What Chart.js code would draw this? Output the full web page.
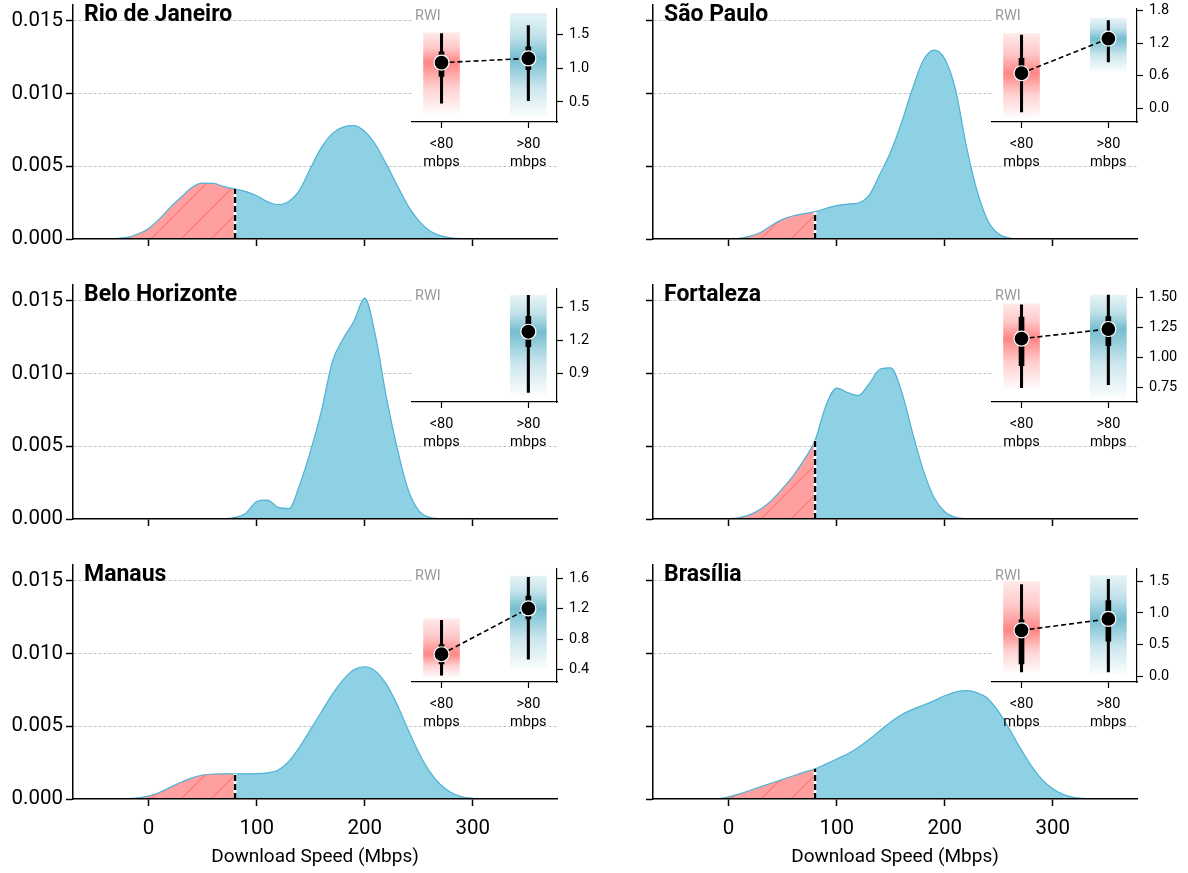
<!DOCTYPE html>
<html>
<head>
<meta charset="utf-8">
<script src="https://cdn.jsdelivr.net/npm/chart.js@4"></script>
<style>
  body { margin: 0; background: #fff; width: 1188px; height: 873px; position: relative; overflow: hidden; }
  canvas { position: absolute; }
</style>
</head>
<body>
<script>
// grille des vitesses (Mbps) où la densité a été lue
const speedGrid = [-50,-40,-30,-20,-10,0,10,20,30,40,50,60,70,80,90,100,110,120,130,140,150,160,170,180,190,200,210,220,230,240,250,260,270,280,290,300,310,320,330,340,350];

// densité en unités de 0.001
const rioDensity      = [0,0,0.03,0.11,0.34,0.73,1.38,2.18,2.87,3.55,3.85,3.83,3.6,3.44,3.26,2.98,2.57,2.36,2.6,3.4,4.9,6.3,7.25,7.7,7.8,7.4,6.5,5.15,3.7,2.3,1.26,0.57,0.23,0.08,0.02,0,0,0,0,0,0];
const spDensity       = [0,0,0,0,0,0,0.05,0.2,0.46,0.95,1.35,1.6,1.75,1.88,2.1,2.3,2.4,2.48,3.0,4.45,6.0,8.0,10.3,12.27,13.0,12.4,10.3,6.4,3.3,1.26,0.34,0.07,0.01,0,0,0,0,0,0,0,0];
const bhDensity       = [0,0,0,0,0,0,0,0,0,0,0,0,0.02,0.1,0.4,1.2,1.3,0.8,0.72,2.4,4.7,7.45,10.8,12.4,13.6,15.2,12.6,8.4,4.9,2.06,0.57,0.12,0.02,0,0,0,0,0,0,0,0];
const fortalezaDensity= [0,0,0,0,0,0.02,0.1,0.3,0.7,1.3,2.1,3.0,4.1,5.4,7.8,9.0,8.7,8.5,9.3,10.3,10.4,8.8,6.0,3.4,1.5,0.5,0.12,0.02,0,0,0,0,0,0,0,0,0,0,0,0,0];
const manausDensity   = [0,0,0,0.02,0.08,0.2,0.45,0.8,1.15,1.45,1.65,1.72,1.73,1.73,1.73,1.75,1.8,2.0,2.6,3.6,4.8,6.0,7.2,8.2,8.9,9.1,8.8,7.9,6.5,4.8,3.2,1.9,1.0,0.45,0.15,0.05,0.01,0,0,0,0];
const brasiliaDensity = [0,0,0,0,0.02,0.15,0.35,0.6,0.85,1.1,1.35,1.6,1.85,2.08,2.4,2.75,3.1,3.55,4.1,4.7,5.3,5.8,6.15,6.45,6.75,7.1,7.35,7.45,7.3,6.9,6.0,4.8,3.5,2.3,1.35,0.7,0.3,0.1,0.03,0,0];

const xTicks = [0, 100, 200, 300];
const yTicks = [0, 0.005, 0.010, 0.015];
const threshold = 80;
const groupLabels = [['<80', 'mbps'], ['>80', 'mbps']];

// RWI : [<80, >80]
const rioRwiMean = [1.086, 1.148];
const rioRwiLine = [[0.48, 1.52], [0.52, 1.64]];
const rioRwiBox  = [[0.88, 1.245], [0.98, 1.32]];
const rioRwiBand = [[0.33, 1.53], [0.29, 1.82]];
const rioRwiRange = [0.2, 1.89];
const rioRwiTicks = ['0.5', '1.0', '1.5'];

const spRwiMean = [0.646, 1.286];
const spRwiLine = [[-0.07, 1.35], [0.855, 1.62]];
const spRwiBox  = [[0.55, 0.92], [1.2, 1.38]];
const spRwiBand = [[-0.16, 1.38], [0.676, 1.66]];
const spRwiRange = [-0.256, 1.84];
const spRwiTicks = ['0.0', '0.6', '1.2', '1.8'];

const bhRwiMean = [null, 1.28];
const bhRwiLine = [null, [0.73, 1.61]];
const bhRwiBox  = [null, [1.145, 1.42]];
const bhRwiBand = [null, [0.706, 1.61]];
const bhRwiRange = [0.643, 1.67];
const bhRwiTicks = ['0.9', '1.2', '1.5'];

const fortalezaRwiMean = [1.155, 1.236];
const fortalezaRwiLine = [[0.745, 1.438], [0.77, 1.52]];
const fortalezaRwiBox  = [[0.93, 1.336], [1.096, 1.34]];
const fortalezaRwiBand = [[0.737, 1.446], [0.668, 1.52]];
const fortalezaRwiRange = [0.626, 1.573];
const fortalezaRwiTicks = ['0.75', '1.00', '1.25', '1.50'];

const manausRwiMean = [0.6, 1.204];
const manausRwiLine = [[0.323, 1.047], [0.536, 1.613]];
const manausRwiBox  = [[0.472, 0.728], [1.067, 1.366]];
const manausRwiBand = [[0.30, 1.067], [0.41, 1.63]];
const manausRwiRange = [0.234, 1.728];
const manausRwiTicks = ['0.4', '0.8', '1.2', '1.6'];

const brasiliaRwiMean = [0.725, 0.905];
const brasiliaRwiLine = [[0.066, 1.45], [0.066, 1.53]];
const brasiliaRwiBox  = [[0.195, 0.89], [0.555, 1.195]];
const brasiliaRwiBand = [[0.066, 1.5], [0.04, 1.59]];
const brasiliaRwiRange = [-0.092, 1.70];
const brasiliaRwiTicks = ['0.0', '0.5', '1.0', '1.5'];

const cities = [
  { name: 'Rio de Janeiro', density: rioDensity, mean: rioRwiMean, line: rioRwiLine, box: rioRwiBox, band: rioRwiBand, range: rioRwiRange, ticks: rioRwiTicks },
  { name: 'São Paulo', density: spDensity, mean: spRwiMean, line: spRwiLine, box: spRwiBox, band: spRwiBand, range: spRwiRange, ticks: spRwiTicks },
  { name: 'Belo Horizonte', density: bhDensity, mean: bhRwiMean, line: bhRwiLine, box: bhRwiBox, band: bhRwiBand, range: bhRwiRange, ticks: bhRwiTicks },
  { name: 'Fortaleza', density: fortalezaDensity, mean: fortalezaRwiMean, line: fortalezaRwiLine, box: fortalezaRwiBox, band: fortalezaRwiBand, range: fortalezaRwiRange, ticks: fortalezaRwiTicks },
  { name: 'Manaus', density: manausDensity, mean: manausRwiMean, line: manausRwiLine, box: manausRwiBox, band: manausRwiBand, range: manausRwiRange, ticks: manausRwiTicks },
  { name: 'Brasília', density: brasiliaDensity, mean: brasiliaRwiMean, line: brasiliaRwiLine, box: brasiliaRwiBox, band: brasiliaRwiBand, range: brasiliaRwiRange, ticks: brasiliaRwiTicks }
];

Chart.defaults.font.family = 'Roboto, "Open Sans", sans-serif';
Chart.defaults.color = '#000';

const blueFill = '#8ed1e4';
const blueLine = '#4fb2d5';

// motif hachuré pour la zone < 80
function makeHatch() {
  const c = document.createElement('canvas');
  c.width = 30; c.height = 30;
  const g = c.getContext('2d');
  g.fillStyle = '#ffa0a0';
  g.fillRect(0, 0, 30, 30);
  g.strokeStyle = '#ff8484';
  g.lineWidth = 1.8;
  g.beginPath();
  g.moveTo(-2, 32); g.lineTo(32, -2);
  g.moveTo(-8, 8); g.lineTo(8, -8);
  g.moveTo(22, 38); g.lineTo(38, 22);
  g.stroke();
  return g.createPattern(c, 'repeat');
}
const hatch = makeHatch();

function addCanvas(left, top, w, h) {
  const cv = document.createElement('canvas');
  cv.width = w; cv.height = h;
  cv.style.left = left + 'px';
  cv.style.top = top + 'px';
  cv.style.width = w + 'px';
  cv.style.height = h + 'px';
  document.body.appendChild(cv);
  return cv;
}

function noPad(s) {
  s.paddingTop = 0; s.paddingBottom = 0; s.paddingLeft = 0; s.paddingRight = 0;
}

const titlePlugin = {
  id: 'cityTitle',
  afterDraw(chart, args, opts) {
    const { ctx, chartArea } = chart;
    ctx.save();
    ctx.font = 'bold 23px Roboto, sans-serif';
    ctx.fillStyle = '#000';
    ctx.textBaseline = 'alphabetic';
    ctx.fillText(opts.text, chartArea.left + 11, chartArea.top + 16);
    ctx.restore();
  }
};

function mainChart(city, col, row) {
  const left = col ? 580 : 0;
  const w = col ? 600 : 580;
  const top = row * 280;
  const h = row === 2 ? 313 : 280;
  const cv = addCanvas(left, top, w, h);
  const pts = speedGrid.map((x, i) => ({ x: x, y: city.density[i] / 1000 }));
  const v80 = city.density[speedGrid.indexOf(threshold)] / 1000;
  const cut = [{ x: threshold, y: 0 }, { x: threshold, y: v80 }];

  new Chart(cv, {
    type: 'line',
    data: {
      datasets: [
        { data: cut, borderColor: '#000', borderWidth: 2.4, borderDash: [6, 3], pointRadius: 0, fill: false, order: 0 },
        { data: cut, borderColor: '#fff', borderWidth: 2.8, pointRadius: 0, fill: false, order: 1 },
        {
          data: pts, borderColor: blueLine, borderWidth: 1.2, pointRadius: 0,
          fill: 'origin', backgroundColor: blueFill, cubicInterpolationMode: 'monotone',
          segment: { backgroundColor: c => c.p1.parsed.x <= threshold ? hatch : blueFill },
          order: 2
        }
      ]
    },
    options: {
      responsive: false,
      animation: false,
      events: [],
      layout: { padding: { top: 5, right: col ? 43 : 23, left: 0, bottom: 0 } },
      plugins: { legend: { display: false }, tooltip: { enabled: false }, cityTitle: { text: city.name } },
      scales: {
        x: {
          type: 'linear', min: -70, max: 378,
          afterBuildTicks: s => { s.ticks = xTicks.map(v => ({ value: v })); },
          afterFit: s => { s.height = h - 239; noPad(s); },
          grid: { drawOnChartArea: false, tickLength: 7, tickWidth: 1.5, tickColor: '#000' },
          border: { color: '#000', width: 1.5, z: 1 },
          ticks: { display: row === 2, font: { size: 20.5 }, padding: 11, color: '#000', maxRotation: 0 },
          title: { display: row === 2, text: 'Download Speed (Mbps)', font: { size: 19 }, color: '#000', padding: { top: 4, bottom: 4 } }
        },
        y: {
          min: 0, max: 0.0161,
          afterBuildTicks: s => { s.ticks = yTicks.map(v => ({ value: v })); },
          afterFit: s => { s.width = 73; noPad(s); },
          grid: {
            color: c => (c.tick && c.tick.value > 0) ? '#b4b4b4' : 'rgba(0,0,0,0)',
            lineWidth: 0.8, tickLength: 7, tickWidth: 1.5, tickColor: '#000'
          },
          border: { color: '#000', width: 1.5, dash: [3, 2], z: 1 },
          ticks: { display: col === 0, font: { size: 20.5 }, padding: 3, color: '#000', callback: v => v.toFixed(3) }
        }
      }
    },
    plugins: [titlePlugin]
  });
}

// fond blanc + étiquette RWI de l'encart
const insetPlugin = {
  id: 'insetBg',
  beforeDraw(chart) {
    const { ctx, chartArea } = chart;
    ctx.save();
    ctx.fillStyle = '#fff';
    ctx.fillRect(chartArea.left, chartArea.top, chartArea.right - chartArea.left, chartArea.bottom - chartArea.top);
    ctx.restore();
  },
  afterDraw(chart) {
    const { ctx, chartArea } = chart;
    ctx.save();
    ctx.font = '14.5px Roboto, sans-serif';
    ctx.fillStyle = '#999';
    ctx.textBaseline = 'middle';
    ctx.fillText('RWI', chartArea.left + 3, chartArea.top + 8);
    ctx.restore();
  }
};

function bandFill(c) {
  const chart = c.chart;
  if (!chart.chartArea || !c.raw) return 'rgba(0,0,0,0)';
  const ys = chart.scales.y;
  const top = ys.getPixelForValue(c.raw.y[1]);
  const bot = ys.getPixelForValue(c.raw.y[0]);
  const mid = ys.getPixelForValue(c.raw.m);
  const rgb = c.raw.x === 0 ? '255,112,112' : '92,178,200';
  const f = Math.min(Math.max((mid - top) / (bot - top), 0.05), 0.95);
  const g = chart.ctx.createLinearGradient(0, top, 0, bot);
  g.addColorStop(0, 'rgba(' + rgb + ',0.15)');
  g.addColorStop(f * 0.5, 'rgba(' + rgb + ',0.38)');
  g.addColorStop(f, 'rgba(' + rgb + ',0.85)');
  g.addColorStop(f + (1 - f) * 0.5, 'rgba(' + rgb + ',0.32)');
  g.addColorStop(1, 'rgba(' + rgb + ',0.03)');
  return g;
}

function insetChart(city, col, row) {
  const cv = addCanvas(col ? 980 : 400, row * 280, 200, 170);
  const idx = [0, 1].filter(i => city.mean[i] !== null);
  const band = idx.map(i => ({ x: i, y: city.band[i], m: city.mean[i] }));
  const whisk = idx.map(i => ({ x: i, y: city.line[i] }));
  const box = idx.map(i => ({ x: i, y: city.box[i] }));
  const means = idx.map(i => ({ x: i, y: city.mean[i] }));

  new Chart(cv, {
    type: 'bar',
    data: {
      datasets: [
        {
          type: 'line', data: means, borderColor: '#000', borderWidth: 1.6, borderDash: [5, 3],
          pointRadius: 7.5, pointBackgroundColor: '#000', pointBorderColor: '#fff', pointBorderWidth: 1.2,
          fill: false, clip: false, order: 0
        },
        { type: 'bar', data: box, backgroundColor: '#000', barThickness: 5, grouped: false, order: 1 },
        { type: 'bar', data: whisk, backgroundColor: '#000', barThickness: 2.4, grouped: false, order: 2 },
        { type: 'bar', data: band, backgroundColor: bandFill, barThickness: 36, grouped: false, order: 3 }
      ]
    },
    options: {
      responsive: false,
      animation: false,
      events: [],
      layout: { padding: { top: 5, left: 12, right: 0, bottom: 0 } },
      plugins: { legend: { display: false }, tooltip: { enabled: false } },
      scales: {
        x: {
          type: 'linear', min: -0.34, max: 1.33, offset: false,
          afterBuildTicks: s => { s.ticks = [{ value: 0 }, { value: 1 }]; },
          afterFit: s => { s.height = 48; noPad(s); },
          grid: { offset: false, drawOnChartArea: false, tickLength: 6, tickWidth: 1.2, tickColor: '#000' },
          border: { color: '#000', width: 1.2 },
          ticks: { font: { size: 14.5 }, padding: 8, color: '#000', maxRotation: 0, autoSkip: false, callback: (v, i) => groupLabels[i] }
        },
        y: {
          position: 'right', min: city.range[0], max: city.range[1],
          afterBuildTicks: s => { s.ticks = city.ticks.map(t => ({ value: parseFloat(t) })); },
          afterFit: s => { s.width = 43; noPad(s); },
          grid: { drawOnChartArea: false, tickLength: 6, tickWidth: 1.2, tickColor: '#000' },
          border: { color: '#000', width: 1.2 },
          ticks: { font: { size: 14.5 }, padding: 6, color: '#000', callback: (v, i) => city.ticks[i] }
        }
      }
    },
    plugins: [insetPlugin]
  });
}

cities.forEach((c, i) => mainChart(c, i % 2, Math.floor(i / 2)));
cities.forEach((c, i) => insetChart(c, i % 2, Math.floor(i / 2)));
</script>
</body>
</html>
